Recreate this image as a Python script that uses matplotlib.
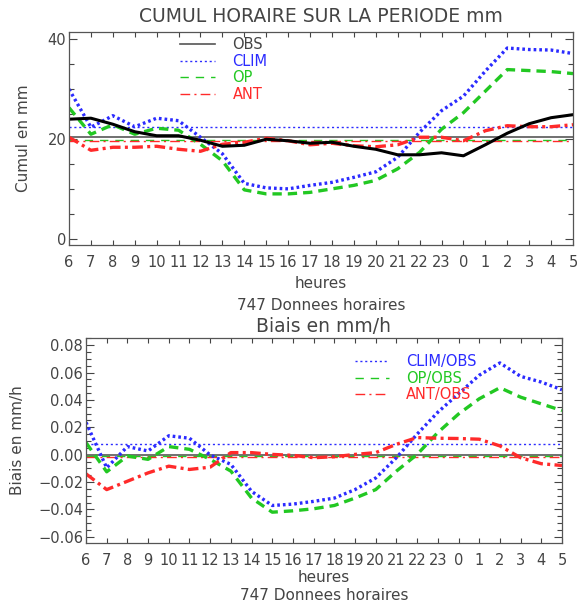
import matplotlib
matplotlib.use("Agg")
import matplotlib.pyplot as plt
from matplotlib.lines import Line2D
from matplotlib.ticker import MultipleLocator, FixedLocator, FuncFormatter
import numpy as np

# hours of the day, 6h -> 5h next day
hours = ['6', '7', '8', '9', '10', '11', '12', '13', '14', '15', '16', '17',
         '18', '19', '20', '21', '22', '23', '0', '1', '2', '3', '4', '5']

# cumulated rain per hour (mm)
obs = [23.9, 24.1, 22.9, 21.4, 20.6, 20.6, 19.7, 18.5, 18.7, 19.9, 19.6, 19.1,
       19.3, 18.5, 17.9, 16.8, 16.8, 17.2, 16.6, 18.8, 21.1, 23.0, 24.2, 24.8]
clim = [29.9, 22.3, 24.6, 22.4, 24.1, 23.6, 20.3, 17.0, 11.1, 10.2, 10.0, 10.7,
        11.3, 12.3, 13.4, 16.3, 21.3, 25.6, 28.5, 33.5, 38.1, 37.8, 37.7, 37.0]
op = [26.2, 20.9, 22.8, 20.9, 22.1, 21.7, 18.9, 15.6, 9.8, 9.0, 9.0, 9.3,
      10.0, 10.7, 11.7, 14.0, 17.3, 21.9, 25.2, 29.5, 33.8, 33.6, 33.4, 33.0]
ant = [20.3, 17.7, 18.3, 18.3, 18.5, 17.9, 17.5, 18.9, 19.3, 20.1, 19.6, 18.8,
       19.1, 18.6, 18.4, 18.8, 20.3, 20.3, 19.6, 21.6, 22.6, 22.4, 22.4, 22.8]
means_top = {'OBS': 20.3, 'CLIM': 22.4, 'OP': 19.7, 'ANT': 19.6}

# bias per hour (mm/h)
b_clim = [0.0236, -0.0096, 0.0059, 0.0027, 0.0138, 0.0120, -0.0002, -0.0071,
          -0.0268, -0.0371, -0.0361, -0.0341, -0.0317, -0.0255, -0.0170, -0.0022,
          0.0150, 0.0310, 0.0445, 0.0580, 0.0670, 0.0572, 0.0530, 0.0474]
b_op = [0.0088, -0.0125, -0.0010, -0.0034, 0.0059, 0.0039, -0.0034, -0.0120,
        -0.0317, -0.0420, -0.0410, -0.0395, -0.0371, -0.0317, -0.0255, -0.0120,
        0.0002, 0.0162, 0.0297, 0.0408, 0.0489, 0.0420, 0.0371, 0.0322]
b_ant = [-0.0140, -0.0255, -0.0194, -0.0133, -0.0084, -0.0108, -0.0091, 0.0015,
         0.0015, 0.0002, -0.0005, -0.0022, -0.0015, 0.0002, 0.0015, 0.0076,
         0.0125, 0.0120, 0.0118, 0.0113, 0.0064, -0.0022, -0.0066, -0.0079]
means_bias = {'CLIM': 0.0076, 'OP': -0.0010, 'ANT': -0.0015}

BLUE = '#2b2bff'
GREEN = '#22c822'
RED = '#ff2a2a'
TXT = '#444444'
GRAY = '#707070'

DOT = (0, (0.8, 0.9))
DASH = (0, (2.8, 1.8))
DASHDOT = (0, (3.2, 1.3, 0.9, 1.3))
DOT_THIN = (0, (1.5, 2))
DASH_THIN = (0, (6, 5))
DASHDOT_THIN = (0, (7, 3, 1.5, 3))

x = np.arange(len(hours))

plt.rcParams['font.family'] = 'DejaVu Sans'
fig = plt.figure(figsize=(5.77, 6.06), dpi=100)


def px(xp, yp):
    return xp / 577, 1 - yp / 606


def style_axes(ax):
    ax.set_xlim(0, len(hours) - 1)
    ax.xaxis.set_major_locator(FixedLocator(x))
    ax.set_xticklabels(hours)
    ax.tick_params(axis='both', which='both', direction='in', colors=TXT,
                   labelcolor=TXT, labelsize=10.5, top=True, right=True, width=0.8)
    ax.tick_params(axis='x', length=3.5, pad=7)
    ax.tick_params(axis='y', which='major', length=5.5, pad=2)
    ax.tick_params(axis='y', which='minor', length=3.5)
    for s in ax.spines.values():
        s.set_color('#555555')
        s.set_linewidth(0.9)


# ---- top panel: cumulated
ax1 = fig.add_axes([69 / 577, 1 - 245 / 606, 504 / 577, 213 / 606])
style_axes(ax1)
ax1.set_ylim(-1.2, 41.3)
ax1.yaxis.set_major_locator(MultipleLocator(20))
ax1.yaxis.set_minor_locator(MultipleLocator(5))

ax1.axhline(means_top['OBS'], color=GRAY, lw=1.4)
ax1.axhline(means_top['CLIM'], color=BLUE, lw=1, ls=DOT_THIN)
ax1.axhline(means_top['OP'], color=GREEN, lw=1, ls=DASH_THIN)
ax1.axhline(means_top['ANT'], color=RED, lw=1, ls=DASHDOT_THIN)
ax1.plot(x, clim, color=BLUE, lw=2.4, ls=DOT)
ax1.plot(x, op, color=GREEN, lw=2.4, ls=DASH)
ax1.plot(x, ant, color=RED, lw=2.4, ls=DASHDOT)
ax1.plot(x, obs, color='black', lw=2.2)

h1 = [Line2D([], [], color='#555555', lw=1.2),
      Line2D([], [], color=BLUE, lw=1, ls=DOT_THIN),
      Line2D([], [], color=GREEN, lw=1, ls=DASH_THIN),
      Line2D([], [], color=RED, lw=1, ls=DASHDOT_THIN)]
leg1 = ax1.legend(h1, ['OBS', 'CLIM', 'OP', 'ANT'], loc='upper left',
                  bbox_to_anchor=px(180, 37), bbox_transform=fig.transFigure,
                  frameon=False, fontsize=10.5, handlelength=2.4, handletextpad=1.2,
                  labelspacing=0.12, borderpad=0, borderaxespad=0)
for t, c in zip(leg1.get_texts(), ['#444444', BLUE, GREEN, RED]):
    t.set_color(c)

fig.text(*px(321, 17), 'CUMUL HORAIRE SUR LA PERIODE mm', ha='center', va='center',
         fontsize=13.5, color=TXT)
fig.text(*px(24, 138), 'Cumul en mm', rotation=90, ha='center', va='center',
         fontsize=11, color=TXT)
fig.text(*px(321, 284), 'heures', ha='center', va='center', fontsize=11, color=TXT)
fig.text(*px(321, 305), '747 Donnees horaires', ha='center', va='center',
         fontsize=11, color=TXT)

# ---- bottom panel: bias
ax2 = fig.add_axes([86 / 577, 1 - 543 / 606, 476 / 577, 205 / 606])
style_axes(ax2)
ax2.set_ylim(-0.0645, 0.0852)
ax2.yaxis.set_major_locator(MultipleLocator(0.02))
ax2.yaxis.set_minor_locator(MultipleLocator(0.005))
ax2.yaxis.set_major_formatter(FuncFormatter(lambda v, p: f"{v:.2f}".replace('-', '\u2212')
                                            if abs(v) > 1e-9 else "0.00"))

ax2.axhline(0, color=GRAY, lw=1.4)
ax2.axhline(means_bias['CLIM'], color=BLUE, lw=1, ls=DOT_THIN)
ax2.axhline(means_bias['OP'], color=GREEN, lw=1, ls=DASH_THIN)
ax2.axhline(means_bias['ANT'], color=RED, lw=1, ls=DASHDOT_THIN)
ax2.plot(x, b_clim, color=BLUE, lw=2.4, ls=DOT)
ax2.plot(x, b_op, color=GREEN, lw=2.4, ls=DASH)
ax2.plot(x, b_ant, color=RED, lw=2.4, ls=DASHDOT)

h2 = h1[1:]
leg2 = ax2.legend(h2, ['CLIM/OBS', 'OP/OBS', 'ANT/OBS'], loc='upper left',
                  bbox_to_anchor=px(355, 354), bbox_transform=fig.transFigure,
                  frameon=False, fontsize=10.5, handlelength=2.3, handletextpad=1.2,
                  labelspacing=0.12, borderpad=0, borderaxespad=0)
for t, c in zip(leg2.get_texts(), [BLUE, GREEN, RED]):
    t.set_color(c)

fig.text(*px(324, 327), 'Biais en mm/h', ha='center', va='center',
         fontsize=13.5, color=TXT)
fig.text(*px(18, 440), 'Biais en mm/h', rotation=90, ha='center', va='center',
         fontsize=11, color=TXT)
fig.text(*px(324, 577), 'heures', ha='center', va='center', fontsize=11, color=TXT)
fig.text(*px(324, 595), '747 Donnees horaires', ha='center', va='center',
         fontsize=11, color=TXT)

fig.savefig('out.png', dpi=100, facecolor='white')
